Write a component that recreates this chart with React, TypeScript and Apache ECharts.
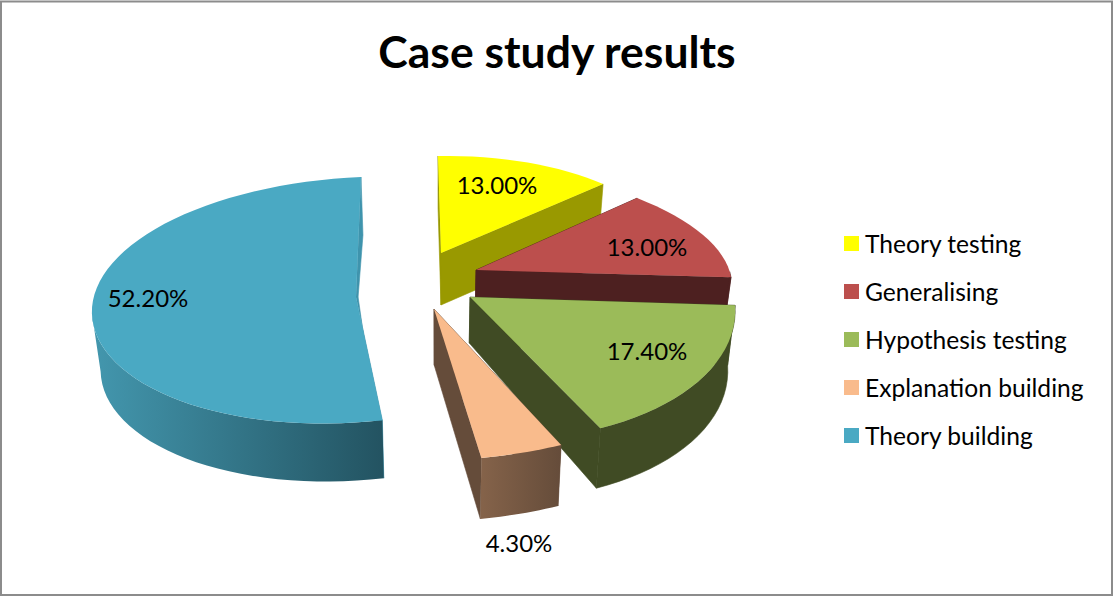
import React, { useEffect, useRef } from "react";
import * as echarts from "echarts";

const titleText = "Case study results";
const categories = ["Theory testing", "Generalising", "Hypothesis testing", "Explanation building", "Theory building"];
const percentages = [13.0, 13.0, 17.4, 4.3, 52.2];
const topColors = ["#ffff00", "#bc4f4d", "#9bbb59", "#f9bb8c", "#4aa9c3"];
const cutColors = ["#999900", "#4d2020", "#404b24", "#654c3a", "#3f94ad"];
const rimColors = [["#999900", "#999900"], ["#4d2020", "#4d2020"], ["#404b24", "#404b24"], ["#85634a", "#654c3a"], ["#4397ae", "#235361"]];

// Per-slice placement of the exploded wedge on screen (view projection, not data)
const apexes = [[441, 253], [476, 270], [470, 297], [434, 309], [356, 297]];
// a, b, c, d, qx, qy : sx = a*X + b*Y + qx*Y*Y ; sy = c*X + d*Y + qy*Y*Y
const projections = [
  [225, 3, -3.5, 97, 0, 0],
  [253.3, 34.6, 0.35, 105.5, 0, 0],
  [263.8, 27, -1, 143.6, 0, 0],
  [308.6, 3.9, -6.9, 151.4, 0, 0],
  [264, -8, -11, 123, -3, 3],
];
const apexDepths = [52, 52, 46, 56, 0];
const rimDepths = [52, 52, 60, 61, 58];
const labelAnchors = [[497, 184], [647, 246], [647, 350], [519, 542], [148, 297]];
const vanishX = 440;
const depthShrink = 0.975;

const FONT = "Lato";
const total = percentages.reduce((s, v) => s + v, 0);

function makeRender(idx: number) {
  return (_params: any, api: any) => {
    const start = percentages.slice(0, idx).reduce((s, v) => s + v, 0);
    const value = api.value(0);
    const a0 = (start / total) * Math.PI * 2;
    const a1 = ((start + value) / total) * Math.PI * 2;
    const [ax, ay] = apexes[idx];
    const [a, b, c, d, qx, qy] = projections[idx];
    const project = (t: number) => {
      const X = Math.sin(t);
      const Y = -Math.cos(t);
      return [ax + a * X + b * Y + qx * Y * Y, ay + c * X + d * Y + qy * Y * Y];
    };
    const drop = (p: number[], depth: number) => [vanishX + (p[0] - vanishX) * depthShrink, p[1] + depth];
    const steps = Math.max(12, Math.round(((a1 - a0) / (Math.PI * 2)) * 120));
    const rim: number[][] = [];
    const frontRim: number[][] = [];
    for (let i = 0; i <= steps; i++) {
      const t = a0 + ((a1 - a0) * i) / steps;
      const p = project(t);
      rim.push(p);
      if (-Math.cos(t) >= 0) frontRim.push(p);
    }
    const rimDepth = rimDepths[idx];
    const apex = [ax, ay];
    const apexB = drop(apex, apexDepths[idx]);
    const first = rim[0];
    const last = rim[rim.length - 1];
    const poly = (points: number[][], fill: any, edge?: string) => ({
      type: "polygon",
      shape: { points },
      style: { fill, stroke: edge || "none", lineWidth: edge ? 0.6 : 0 },
    });
    const [g0, g1] = rimColors[idx];
    const rimFill =
      g0 === g1 ? g0 : new echarts.graphic.LinearGradient(0, 0, 1, 0, [{ offset: 0, color: g0 }, { offset: 1, color: g1 }]);
    const children: any[] = [
      poly([apex, first, drop(first, rimDepth), apexB], cutColors[idx], cutColors[idx]),
      poly([apex, last, drop(last, rimDepth), apexB], cutColors[idx], cutColors[idx]),
    ];
    if (frontRim.length > 1) {
      const frontB = frontRim.map((p) => drop(p, rimDepth));
      children.push(poly([...frontRim, ...frontB.reverse()], rimFill, g0 === g1 ? g0 : undefined));
    }
    children.push(poly([apex, ...rim], topColors[idx]));
    children.push({
      type: "text",
      z2: 10,
      style: {
        x: labelAnchors[idx][0],
        y: labelAnchors[idx][1],
        text: value.toFixed(2) + "%",
        fill: "#000",
        font: `24px ${FONT}`,
        align: "center",
        verticalAlign: "middle",
      },
    });
    return { type: "group", children };
  };
}

export default function App() {
  const ref = useRef<HTMLDivElement>(null);
  useEffect(() => {
    document.body.style.margin = "0";
    const chart = echarts.init(ref.current!, undefined, { renderer: "svg" });
    chart.setOption({
      animation: false,
      backgroundColor: "#fff",
      title: {
        text: titleText,
        left: 557,
        top: 28,
        padding: 0,
        textAlign: "center",
        textStyle: { fontFamily: FONT, fontSize: 44.5, fontWeight: "bold", color: "#000" },
      },
      legend: {
        orient: "vertical",
        left: 844,
        top: 231,
        padding: 0,
        itemWidth: 15,
        itemHeight: 15,
        itemGap: 23,
        icon: "rect",
        data: categories,
        selectedMode: false,
        textStyle: { fontFamily: FONT, fontSize: 24.6, color: "#000", padding: [0, 0, 0, 1] },
      },
      graphic: [
        {
          type: "rect",
          shape: { x: 1, y: 1.5, width: 1111, height: 593.5 },
          style: { fill: "none", stroke: "#8c8c8c", lineWidth: 2 },
          silent: true,
        },
      ],
      series: categories.map((name, i) => ({
        type: "custom",
        name,
        coordinateSystem: "none",
        itemStyle: { color: topColors[i] },
        data: [[percentages[i]]],
        renderItem: makeRender(i),
        silent: true,
        z: 2 + i,
      })),
    });
    return () => chart.dispose();
  }, []);
  return <div ref={ref} style={{ position: "absolute", left: 0, top: 0, width: 1113, height: 596 }} />;
}
